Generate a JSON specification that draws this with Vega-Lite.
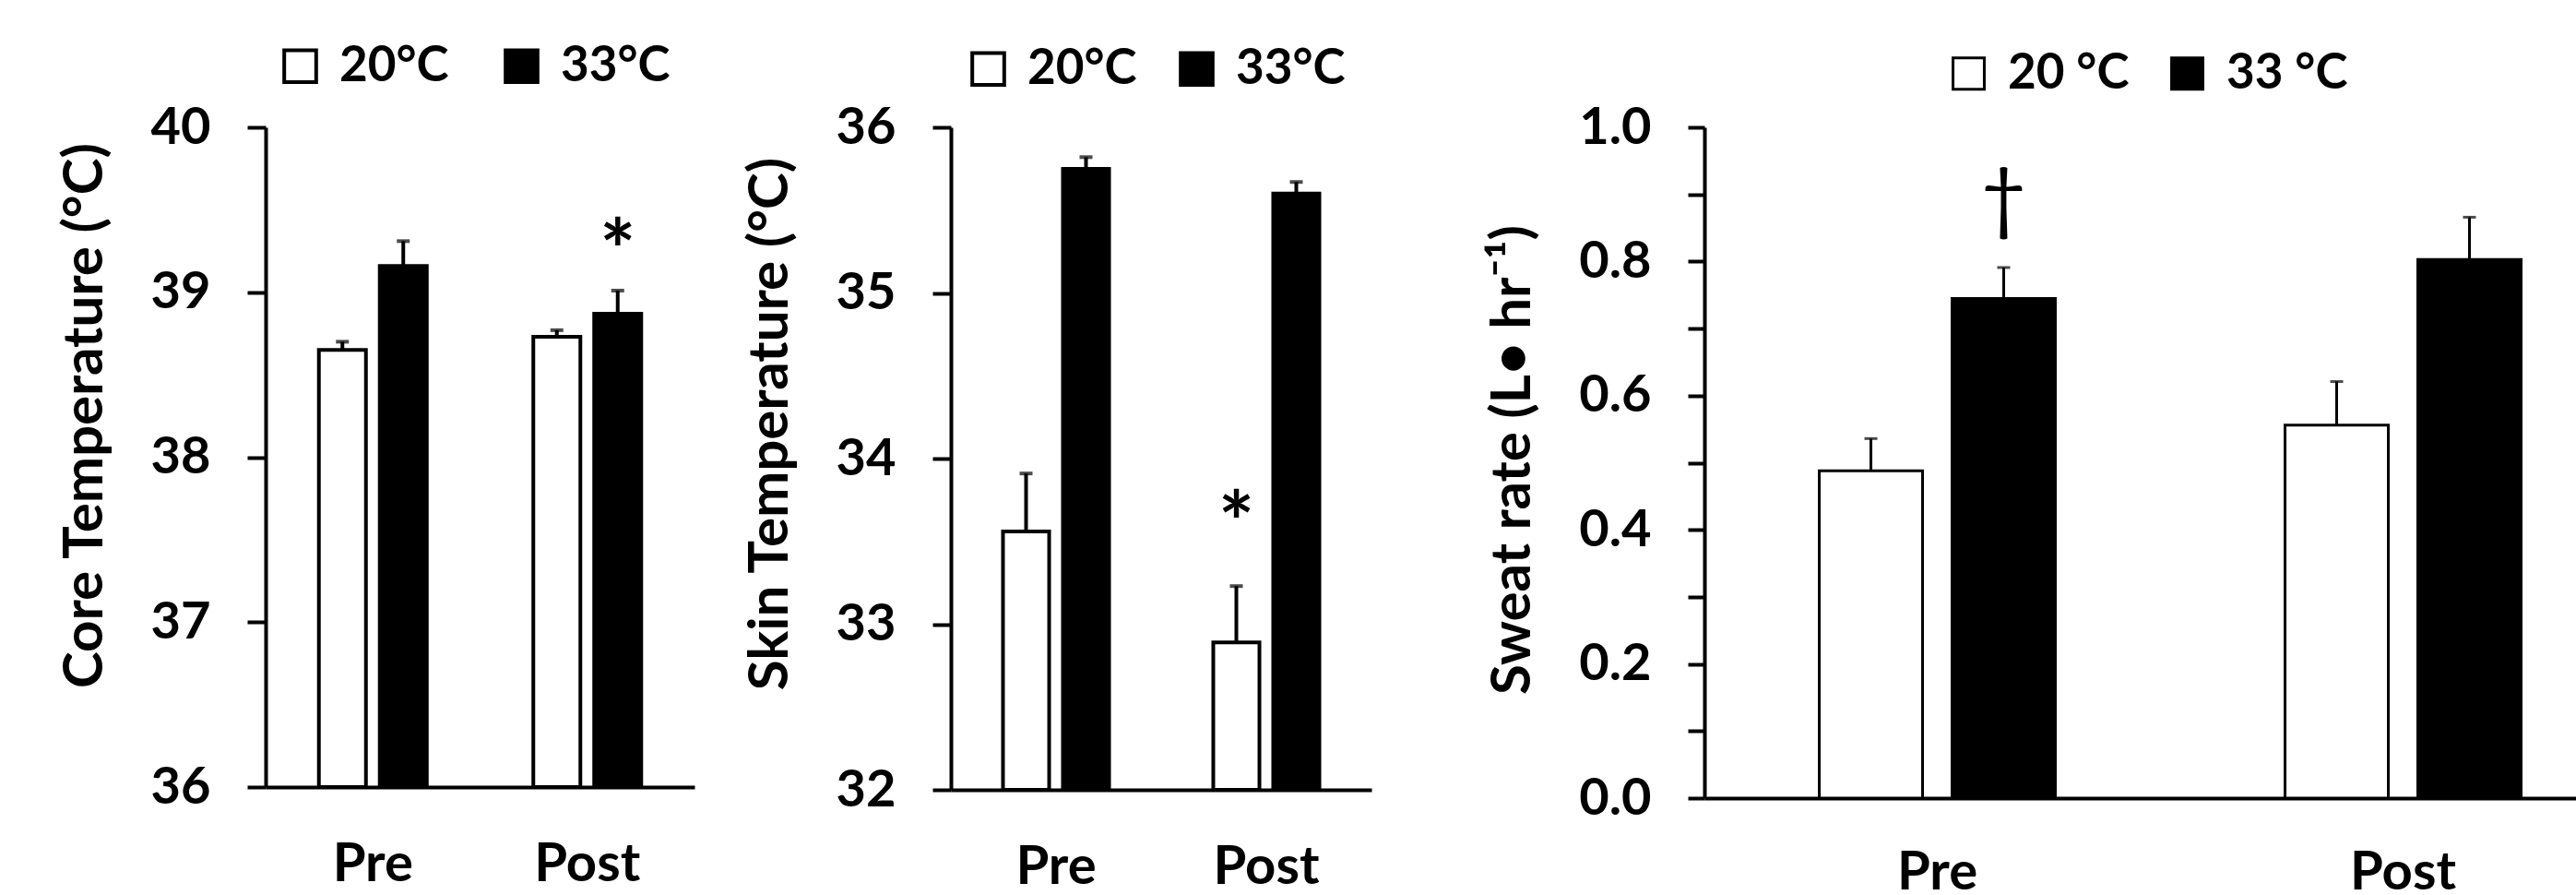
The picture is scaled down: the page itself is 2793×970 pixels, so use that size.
{
  "$schema": "https://vega.github.io/schema/vega-lite/v6.json",
  "background": "white",
  "padding": {"left": 62, "top": 44, "right": 0, "bottom": 0},
  "config": {
    "view": {"stroke": null},
    "font": "Lato",
    "axis": {"domainColor": "black", "domainWidth": 4, "tickColor": "black", "tickWidth": 4, "labelColor": "black", "titleColor": "black", "labelFont": "Lato", "labelFontWeight": "bold", "titleFont": "Lato", "titleFontWeight": "bold", "grid": false},
    "axisX": {"ticks": false, "tickSize": 0, "labelFontSize": 58, "labelPadding": 55, "labelAngle": 0},
    "axisY": {"tickSize": 20, "labelFontSize": 56, "labelPadding": 40, "titleFontSize": 60, "titlePadding": 40},
    "legend": {"orient": "none", "direction": "horizontal", "symbolType": "square", "symbolStrokeColor": "black", "labelFont": "Lato", "labelFontWeight": "bold", "labelColor": "black", "labelFontSize": 53, "labelOffset": 16}
  },
  "spacing": 123,
  "resolve": {"scale": {"x": "independent", "y": "independent", "xOffset": "independent", "fill": "independent"}, "legend": {"fill": "independent"}},
  "hconcat": [
    {
      "spacing": 52,
      "resolve": {"scale": {"x": "independent", "y": "independent", "xOffset": "independent", "fill": "independent"}, "legend": {"fill": "independent"}},
      "hconcat": [
        {
          "width": 465,
          "height": 715,
          "data": {"values": [
            {"time": "Pre", "cond": "20°C", "mean": 38.65, "upper": 38.70},
            {"time": "Pre", "cond": "33°C", "mean": 39.16, "upper": 39.31},
            {"time": "Post", "cond": "20°C", "mean": 38.73, "upper": 38.77},
            {"time": "Post", "cond": "33°C", "mean": 38.87, "upper": 39.01, "note": "*", "ypos": 39.22}
          ]},
          "encoding": {
            "x": {"field": "time", "type": "nominal", "sort": ["Pre", "Post"], "title": null, "scale": {"paddingInner": 0, "paddingOuter": 0}},
            "xOffset": {"field": "cond", "type": "nominal", "sort": ["20°C", "33°C"], "scale": {"paddingInner": 0.227, "paddingOuter": 0.875}}
          },
          "layer": [
            {
              "mark": {"type": "bar", "stroke": "black", "strokeWidth": 4},
              "encoding": {
                "y": {"field": "mean", "type": "quantitative", "title": "Core Temperature (°C)", "scale": {"domain": [36, 40], "zero": false, "nice": false},
                  "axis": {"values": [36, 36.5, 37, 37.5, 38, 38.5, 39, 39.5, 40], "format": "d", "labelExpr": "datum.value % 1 === 0 ? datum.label : ''", "titleY": 312}},
                "y2": {"datum": 36},
                "fill": {"field": "cond", "type": "nominal", "scale": {"domain": ["20°C", "33°C"], "range": ["white", "black"]},
                  "legend": {"title": null, "legendX": 11, "legendY": -93, "padding": 0, "symbolSize": 1200, "symbolStrokeWidth": 4, "columnPadding": 52}}
              }
            },
            {
              "mark": {"type": "rule", "strokeWidth": 4, "color": "black"},
              "encoding": {"y": {"field": "mean", "type": "quantitative", "title": "Core Temperature (°C)"}, "y2": {"field": "upper"}}
            },
            {
              "mark": {"type": "tick", "thickness": 4, "size": 14, "color": "black"},
              "encoding": {"y": {"field": "upper", "type": "quantitative", "title": "Core Temperature (°C)"}}
            },
            {
              "transform": [{"filter": "isValid(datum.note)"}],
              "mark": {"type": "text", "font": "Lato", "fontWeight": "bold", "fontSize": 92, "baseline": "middle", "color": "black"},
              "encoding": {"y": {"field": "ypos", "type": "quantitative", "title": "Core Temperature (°C)"}, "text": {"field": "note"}}
            }
          ]
        },
        {
          "width": 456,
          "height": 718,
          "data": {"values": [
            {"time": "Pre", "cond": "20°C", "mean": 33.56, "upper": 33.91},
            {"time": "Pre", "cond": "33°C", "mean": 35.75, "upper": 35.82},
            {"time": "Post", "cond": "20°C", "mean": 32.89, "upper": 33.23, "note": "*", "ypos": 33.58},
            {"time": "Post", "cond": "33°C", "mean": 35.60, "upper": 35.67}
          ]},
          "encoding": {
            "x": {"field": "time", "type": "nominal", "sort": ["Pre", "Post"], "title": null, "scale": {"paddingInner": 0, "paddingOuter": 0}},
            "xOffset": {"field": "cond", "type": "nominal", "sort": ["20°C", "33°C"], "scale": {"paddingInner": 0.23, "paddingOuter": 0.869}}
          },
          "layer": [
            {
              "mark": {"type": "bar", "stroke": "black", "strokeWidth": 4},
              "encoding": {
                "y": {"field": "mean", "type": "quantitative", "title": "Skin Temperature (°C)", "scale": {"domain": [32, 36], "zero": false, "nice": false},
                  "axis": {"values": [32, 32.5, 33, 33.5, 34, 34.5, 35, 35.5, 36], "format": "d", "labelExpr": "datum.value % 1 === 0 ? datum.label : ''", "titleY": 321}},
                "y2": {"datum": 32},
                "fill": {"field": "cond", "type": "nominal", "scale": {"domain": ["20°C", "33°C"], "range": ["white", "black"]},
                  "legend": {"title": null, "legendX": 10, "legendY": -94, "padding": 4, "symbolSize": 1200, "symbolStrokeWidth": 4, "columnPadding": 38}}
              }
            },
            {
              "mark": {"type": "rule", "strokeWidth": 4, "color": "black"},
              "encoding": {"y": {"field": "mean", "type": "quantitative", "title": "Skin Temperature (°C)"}, "y2": {"field": "upper"}}
            },
            {
              "mark": {"type": "tick", "thickness": 4, "size": 14, "color": "black"},
              "encoding": {"y": {"field": "upper", "type": "quantitative", "title": "Skin Temperature (°C)"}}
            },
            {
              "transform": [{"filter": "isValid(datum.note)"}],
              "mark": {"type": "text", "font": "Lato", "fontWeight": "bold", "fontSize": 92, "baseline": "middle", "color": "black"},
              "encoding": {"y": {"field": "ypos", "type": "quantitative", "title": "Skin Temperature (°C)"}, "text": {"field": "note"}}
            }
          ]
        }
      ]
    },
    {
      "width": 1010,
      "height": 727,
      "data": {"values": [
        {"time": "Pre", "cond": "20 °C", "mean": 0.488, "upper": 0.536},
        {"time": "Pre", "cond": "33 °C", "mean": 0.745, "upper": 0.791, "note": "†", "ypos": 0.89},
        {"time": "Post", "cond": "20 °C", "mean": 0.556, "upper": 0.621},
        {"time": "Post", "cond": "33 °C", "mean": 0.803, "upper": 0.866}
      ]},
      "encoding": {
        "x": {"field": "time", "type": "nominal", "sort": ["Pre", "Post"], "title": null, "scale": {"paddingInner": 0, "paddingOuter": 0}, "axis": {"labelPadding": 52}},
        "xOffset": {"field": "cond", "type": "nominal", "sort": ["20 °C", "33 °C"], "scale": {"paddingInner": 0.222, "paddingOuter": 0.865}}
      },
      "layer": [
        {
          "mark": {"type": "bar", "stroke": "black", "strokeWidth": 3},
          "encoding": {
            "y": {"field": "mean", "type": "quantitative", "title": "Sweat rate (L• hr⁻¹)", "scale": {"domain": [0, 1], "nice": false},
              "axis": {"values": [0, 0.1, 0.2, 0.3, 0.4, 0.5, 0.6, 0.7, 0.8, 0.9, 1.0], "format": ".1f", "labelExpr": "round(datum.value * 10) % 2 === 0 ? datum.label : ''", "tickSize": 18, "titleY": 360}},
            "fill": {"field": "cond", "type": "nominal", "scale": {"domain": ["20 °C", "33 °C"], "range": ["white", "black"]},
              "legend": {"title": null, "legendX": 253, "legendY": -92, "padding": 7, "symbolSize": 1150, "symbolStrokeWidth": 3, "columnPadding": 36}}
          }
        },
        {
          "mark": {"type": "rule", "strokeWidth": 3, "color": "black"},
          "encoding": {"y": {"field": "mean", "type": "quantitative", "title": "Sweat rate (L• hr⁻¹)"}, "y2": {"field": "upper"}}
        },
        {
          "mark": {"type": "tick", "thickness": 3, "size": 14, "color": "black"},
          "encoding": {"y": {"field": "upper", "type": "quantitative", "title": "Sweat rate (L• hr⁻¹)"}}
        },
        {
          "transform": [{"filter": "isValid(datum.note)"}],
          "mark": {"type": "text", "font": "Lato", "fontWeight": "normal", "fontSize": 86, "baseline": "middle", "color": "black"},
          "encoding": {"y": {"field": "ypos", "type": "quantitative", "title": "Sweat rate (L• hr⁻¹)"}, "text": {"field": "note"}}
        }
      ]
    }
  ]
}
